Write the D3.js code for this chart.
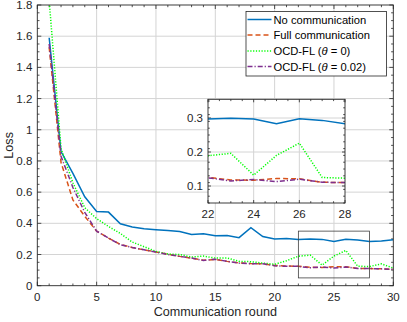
<!DOCTYPE html>
<html>
<head>
<meta charset="utf-8">
<script src="https://cdn.jsdelivr.net/npm/d3@7"></script>
<style>
  body { margin: 0; background: #fff; }
  text { font-family: "Liberation Sans", Arial, sans-serif; }
</style>
</head>
<body>
<div id="chart"></div>
<script>
const rounds = d3.range(1, 31)

const noComm = [1.59, 0.86, 0.72, 0.57, 0.476, 0.472, 0.397, 0.376, 0.365, 0.359, 0.354, 0.348, 0.329, 0.333, 0.32,
  0.322, 0.308, 0.372, 0.315, 0.30, 0.302, 0.297, 0.299, 0.297, 0.283, 0.298, 0.293, 0.283, 0.286, 0.295]
const fullComm = [1.53, 0.79, 0.55, 0.445, 0.35, 0.305, 0.265, 0.245, 0.23, 0.216, 0.202, 0.188, 0.177, 0.163, 0.168,
  0.156, 0.146, 0.142, 0.14, 0.13, 0.126, 0.125, 0.118, 0.117, 0.122, 0.121, 0.111, 0.11, 0.108, 0.105]
const ocd0 = [1.83, 0.88, 0.66, 0.50, 0.43, 0.38, 0.335, 0.28, 0.25, 0.22, 0.203, 0.2, 0.184, 0.19, 0.177,
  0.178, 0.156, 0.154, 0.145, 0.137, 0.16, 0.189, 0.196, 0.132, 0.19, 0.226, 0.125, 0.123, 0.14, 0.113]
const ocd002 = [1.55, 0.83, 0.63, 0.47, 0.35, 0.305, 0.263, 0.245, 0.23, 0.216, 0.2, 0.188, 0.177, 0.162, 0.17,
  0.156, 0.145, 0.141, 0.14, 0.128, 0.124, 0.124, 0.115, 0.119, 0.113, 0.12, 0.111, 0.11, 0.108, 0.105]

const seriesNames = ["No communication", "Full communication", "OCD-FL (θ = 0)", "OCD-FL (θ = 0.02)"]
const seriesColors = ["#0072BD", "#D95319", "#00FF00", "#7E2F8E"]
const seriesDash = [null, "5,3", "1.2,1.6", "5,2,1.2,2"]
const seriesValues = [noComm, fullComm, ocd0, ocd002]

const xTicks = [0, 5, 10, 15, 20, 25, 30]
const yTicks = [0, 0.2, 0.4, 0.6, 0.8, 1, 1.2, 1.4, 1.6, 1.8]
const insetXTicks = [22, 24, 26, 28]
const insetYTicks = [0.1, 0.2, 0.3]

const W = 407, H = 322
const m = { left: 37.3, right: 393.3, top: 5, bottom: 285.7 }
const ink = "#262626"

const svg = d3.select("#chart").append("svg").attr("width", W).attr("height", H)

const x = d3.scaleLinear().domain([0, 30]).range([m.left, m.right])
const y = d3.scaleLinear().domain([0, 1.8]).range([m.bottom, m.top])

function series(i) {
  return rounds.map((r, j) => ({ x: r, y: seriesValues[i][j] }))
}

function drawAxesBox(g, xs, ys, xMaj, yMaj, xMin, yMin, gridX, gridY, majLen, minLen) {
  const [x0, x1] = xs.range(), [y0, y1] = ys.range()
  g.append("rect").attr("x", x0).attr("y", y1).attr("width", x1 - x0).attr("height", y0 - y1).attr("fill", "#fff")
  const grid = g.append("g").attr("stroke", "#d4d4d4").attr("stroke-width", 1)
  gridX.forEach(v => grid.append("line").attr("x1", xs(v)).attr("x2", xs(v)).attr("y1", y0).attr("y2", y1))
  gridY.forEach(v => grid.append("line").attr("y1", ys(v)).attr("y2", ys(v)).attr("x1", x0).attr("x2", x1))
  const t = g.append("g").attr("stroke", ink).attr("stroke-width", 0.8)
  xMin.forEach(v => {
    const L = xMaj.includes(v) ? majLen : minLen
    t.append("line").attr("x1", xs(v)).attr("x2", xs(v)).attr("y1", y0).attr("y2", y0 - L)
    t.append("line").attr("x1", xs(v)).attr("x2", xs(v)).attr("y1", y1).attr("y2", y1 + L)
  })
  yMin.forEach(v => {
    const L = yMaj.some(q => Math.abs(q - v) < 1e-9) ? majLen : minLen
    t.append("line").attr("y1", ys(v)).attr("y2", ys(v)).attr("x1", x0).attr("x2", x0 + L)
    t.append("line").attr("y1", ys(v)).attr("y2", ys(v)).attr("x1", x1).attr("x2", x1 - L)
  })
}

function drawLines(g, xs, ys, clipId) {
  const line = d3.line().x(d => xs(d.x)).y(d => ys(d.y))
  const lg = g.append("g").attr("clip-path", `url(#${clipId})`)
  seriesValues.forEach((_, i) => {
    lg.append("path")
      .attr("d", line(series(i)))
      .attr("fill", "none")
      .attr("stroke", seriesColors[i])
      .attr("stroke-width", 1.5)
      .attr("stroke-dasharray", seriesDash[i])
  })
}

// main axes
const main = svg.append("g")
svg.append("clipPath").attr("id", "clipMain").append("rect")
  .attr("x", m.left).attr("y", m.top).attr("width", m.right - m.left).attr("height", m.bottom - m.top)

drawAxesBox(main, x, y, xTicks, yTicks, d3.range(0, 31, 1), d3.range(0, 1.8001, 0.05).map(v => +v.toFixed(2)),
  xTicks.slice(1, -1), yTicks.slice(1, -1), 4, 2.2)
drawLines(main, x, y, "clipMain")

// zoom rectangle
main.append("rect")
  .attr("x", x(22)).attr("y", y(0.35)).attr("width", x(28) - x(22)).attr("height", y(0.05) - y(0.35))
  .attr("fill", "none").attr("stroke", "#404040").attr("stroke-width", 0.8)

main.append("rect").attr("x", m.left).attr("y", m.top).attr("width", m.right - m.left).attr("height", m.bottom - m.top)
  .attr("fill", "none").attr("stroke", ink).attr("stroke-width", 0.9)

main.selectAll(".xt").data(xTicks).join("text")
  .attr("x", d => x(d)).attr("y", m.bottom + 15.5).attr("text-anchor", "middle")
  .attr("font-size", 11.5).attr("fill", ink).text(d => d)
main.selectAll(".yt").data(yTicks).join("text")
  .attr("x", m.left - 5).attr("y", d => y(d) + 4).attr("text-anchor", "end")
  .attr("font-size", 11.5).attr("fill", ink).text(d => d)

svg.append("text").attr("x", (m.left + m.right) / 2).attr("y", 316).attr("text-anchor", "middle")
  .attr("font-size", 12.6).attr("fill", ink).text("Communication round")
svg.append("text").attr("transform", `translate(13,${(m.top + m.bottom) / 2}) rotate(-90)`)
  .attr("text-anchor", "middle").attr("font-size", 12.6).attr("fill", ink).text("Loss")

// inset
const xi = d3.scaleLinear().domain([22, 28]).range([208, 345])
const yi = d3.scaleLinear().domain([0.05, 0.355]).range([203, 99.3])
const inset = svg.append("g")
svg.append("clipPath").attr("id", "clipInset").append("rect")
  .attr("x", 208).attr("y", 99.3).attr("width", 137).attr("height", 103.7)
drawAxesBox(inset, xi, yi, insetXTicks, insetYTicks, d3.range(22, 28.01, 0.5),
  d3.range(0.05, 0.356, 0.02).map(v => +v.toFixed(2)).concat(insetYTicks), [24, 26], insetYTicks, 3, 1.8)
drawLines(inset, xi, yi, "clipInset")
inset.append("rect").attr("x", 208).attr("y", 99.3).attr("width", 137).attr("height", 103.7)
  .attr("fill", "none").attr("stroke", ink).attr("stroke-width", 0.9)
inset.selectAll(".xt").data(insetXTicks).join("text")
  .attr("x", d => xi(d)).attr("y", 218).attr("text-anchor", "middle")
  .attr("font-size", 11.5).attr("fill", ink).text(d => d)
inset.selectAll(".yt").data(insetYTicks).join("text")
  .attr("x", 203).attr("y", d => yi(d) + 4).attr("text-anchor", "end")
  .attr("font-size", 11.5).attr("fill", ink).text(d => d)

// legend
const lg = svg.append("g")
lg.append("rect").attr("x", 246).attr("y", 11.5).attr("width", 140.5).attr("height", 64.5)
  .attr("fill", "#fff").attr("stroke", ink).attr("stroke-width", 0.8)
const rowY = [19.5, 35, 51, 66.5]
seriesNames.forEach((name, i) => {
  lg.append("line").attr("x1", 247.5).attr("x2", 271.5).attr("y1", rowY[i]).attr("y2", rowY[i])
    .attr("stroke", seriesColors[i]).attr("stroke-width", 1.5).attr("stroke-dasharray", seriesDash[i])
  const t = lg.append("text").attr("x", 273.5).attr("y", rowY[i] + 4).attr("font-size", 11.2).attr("fill", "#000")
  if (name.includes("θ")) {
    const [a, b] = name.split("θ")
    t.append("tspan").text(a)
    t.append("tspan").attr("font-style", "italic").text("θ")
    t.append("tspan").text(b)
  } else {
    t.text(name)
  }
})
</script>
</body>
</html>
